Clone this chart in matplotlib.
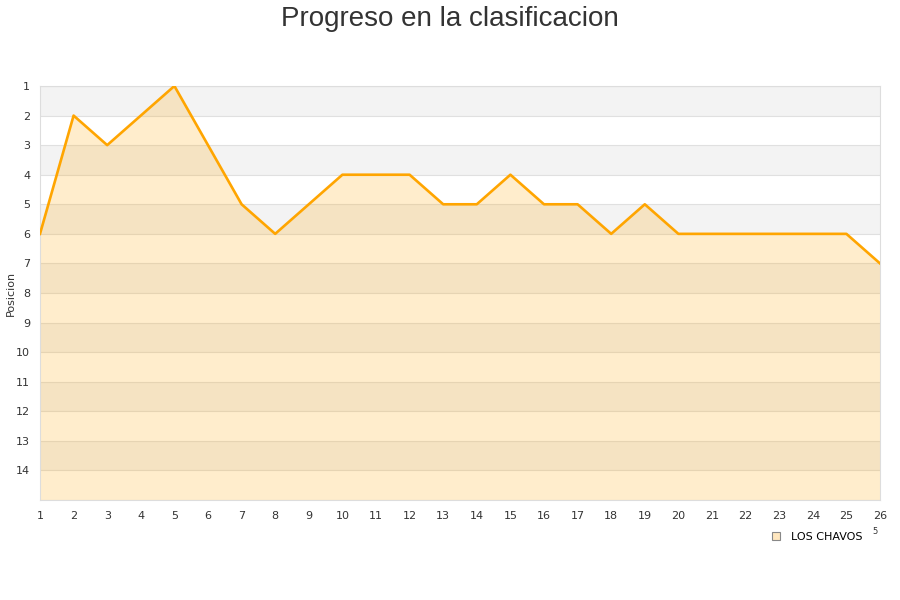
import matplotlib
matplotlib.use("Agg")
import matplotlib.pyplot as plt
from matplotlib.patches import Patch

# jornadas y posiciones del equipo
jornadas = list(range(1, 27))
posiciones = [6, 2, 3, 2, 1, 3, 5, 6, 5, 4, 4, 4, 5, 5, 4, 5, 5, 6, 5, 6, 6, 6, 6, 6, 6, 7]
equipo = "LOS CHAVOS"
y_ticks = list(range(1, 15))

fig = plt.figure(figsize=(9, 6), dpi=100)
ax = fig.add_axes([40/900, 100/600, 840/900, 414/600])

# bandas alternas del fondo
for k in range(1, 15, 2):
    ax.axhspan(k, k + 1, color="#f3f3f3", lw=0, zorder=0)
for k in range(1, 16):
    ax.axhline(k, color="#e0e0e0", lw=0.8, zorder=1)

ax.fill_between(jornadas, posiciones, 15, color="#ffa500", alpha=0.2, lw=0, zorder=2)
ax.plot(jornadas, posiciones, color="#ffa500", lw=1.9, zorder=3)

ax.set_xlim(1, 26)
ax.set_ylim(15, 1)
ax.set_xticks(jornadas)
ax.set_yticks(y_ticks)
ax.tick_params(axis="y", length=0, labelsize=8, colors="#333333", pad=7)
ax.tick_params(axis="x", length=0, labelsize=8, colors="#333333", pad=8)
for s in ax.spines.values():
    s.set_color("#dddddd")

ax.set_ylabel("Posicion", fontsize=8, color="#333333")
ax.yaxis.set_label_coords(-24/840, 0.5)
fig.text(0.5, 0.99, "Progreso en la clasificacion", ha="center", va="top",
         fontsize=20, color="#333333", family="Liberation Sans")

ax.legend(handles=[Patch(facecolor="#ffe7bf", edgecolor="#888888", lw=0.8, label=equipo)],
          loc="center", bbox_to_anchor=(0.908, 0.105), bbox_transform=fig.transFigure,
          frameon=False, fontsize=8, handlelength=0.7, handleheight=0.7, handletextpad=1.0)
fig.text(875/900, 1 - 532/600, "5", fontsize=6, color="#333333", ha="center", va="center")

fig.savefig("out.png", dpi=100)
